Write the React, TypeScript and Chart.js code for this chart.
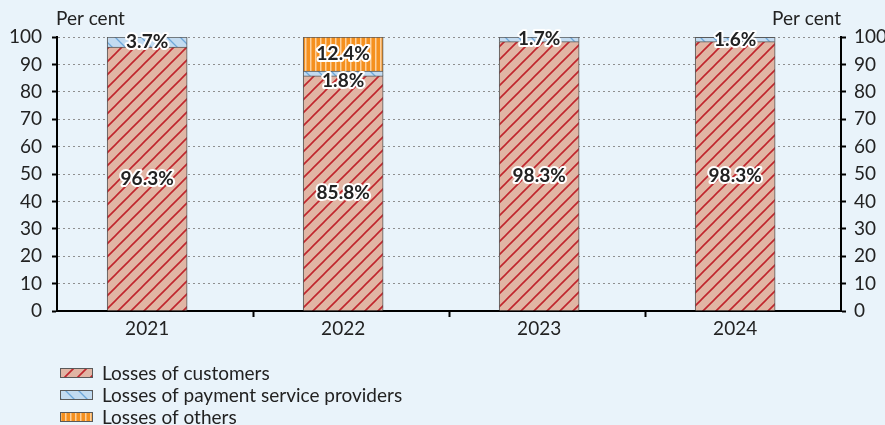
import React, { useEffect, useRef } from 'react';
import { Chart, registerables } from 'chart.js';

Chart.register(...registerables);

// ---- data ----
const YEARS = ['2021', '2022', '2023', '2024'];
const CUSTOMERS = [96.3, 85.8, 98.3, 98.3];
const PSP = [3.7, 1.8, 1.7, 1.6];
const OTHERS = [0, 12.4, 0, 0];
const SERIES_NAMES = [
  'Losses of customers',
  'Losses of payment service providers',
  'Losses of others',
];
const AXIS_TITLE = 'Per cent';
const Y_MIN = 0;
const Y_MAX = 100;
const Y_STEP = 10;

// ---- layout / style ----
const W = 885;
const H = 425;
const BG = '#e9f3fa';
const TEXT = '#222222';
const FONT = 'Lato';
const X_MIN = -0.46;
const X_MAX = 3.54;
const X_BOUNDARY = 0.54;

function makePattern(ctx: CanvasRenderingContext2D, kind: string): CanvasPattern | string {
  const c = document.createElement('canvas');
  const g = c.getContext('2d')!;
  if (kind === 'cust') {
    const s = 13;
    c.width = s; c.height = s;
    g.fillStyle = '#e1b5a4';
    g.fillRect(0, 0, s, s);
    g.strokeStyle = '#c0262d';
    g.lineWidth = 1.6;
    g.beginPath();
    for (const cc of [0, s, 2 * s]) {
      g.moveTo(cc - s - 1, s + 1);
      g.lineTo(cc + 1, -1);
    }
    g.stroke();
  } else if (kind === 'psp') {
    const s = 13;
    c.width = s; c.height = s;
    g.fillStyle = '#c3dbf0';
    g.fillRect(0, 0, s, s);
    g.strokeStyle = '#6ea7d9';
    g.lineWidth = 1.3;
    g.beginPath();
    for (const cc of [-s, 0, s]) {
      g.moveTo(cc - 1, -1);
      g.lineTo(cc + s + 1, s + 1);
    }
    g.stroke();
  } else {
    const s = 5;
    c.width = s; c.height = s;
    g.fillStyle = '#f5901e';
    g.fillRect(0, 0, s, s);
    g.fillStyle = '#fccf9c';
    g.fillRect(0, 0, 1.5, s);
  }
  return ctx.createPattern(c, 'repeat') || '#ccc';
}

const bgPlugin = {
  id: 'bgFill',
  beforeDraw(chart: any) {
    const { ctx, width, height } = chart;
    ctx.save();
    ctx.fillStyle = BG;
    ctx.fillRect(0, 0, width, height);
    ctx.restore();
  },
};

const titlesPlugin = {
  id: 'axisTitles',
  afterDraw(chart: any) {
    const { ctx, chartArea } = chart;
    ctx.save();
    ctx.font = `19px ${FONT}`;
    ctx.fillStyle = TEXT;
    ctx.textBaseline = 'alphabetic';
    ctx.textAlign = 'left';
    ctx.fillText(AXIS_TITLE, chartArea.left - 1, 25);
    ctx.textAlign = 'right';
    ctx.fillText(AXIS_TITLE, chartArea.right, 25);
    ctx.restore();
  },
};

const MIN_GAP = 27;
const segLabelPlugin = {
  id: 'segLabels',
  afterDatasetsDraw(chart: any) {
    const ctx = chart.ctx;
    ctx.save();
    ctx.font = `bold 19px ${FONT}`;
    ctx.textAlign = 'center';
    ctx.textBaseline = 'middle';
    ctx.lineJoin = 'round';
    ctx.lineWidth = 4;
    ctx.strokeStyle = '#ffffff';
    ctx.fillStyle = TEXT;
    for (let i = 0; i < YEARS.length; i++) {
      const items: any[] = [];
      chart.data.datasets.forEach((ds: any, di: number) => {
        const pt = ds.data[i];
        if (!pt || !pt.y) return;
        const el = chart.getDatasetMeta(di).data[i];
        items.push({ x: el.x, y: (el.y + el.base) / 2, text: pt.y.toFixed(1) + '%' });
      });
      for (let k = items.length - 2; k >= 0; k--) {
        if (items[k].y - items[k + 1].y < MIN_GAP) items[k].y = items[k + 1].y + MIN_GAP;
      }
      items.forEach((it) => {
        ctx.strokeText(it.text, it.x, it.y);
        ctx.fillText(it.text, it.x, it.y);
      });
    }
    ctx.restore();
  },
};

const legendPlugin = {
  id: 'vertLegend',
  afterDraw(chart: any) {
    const ctx = chart.ctx;
    ctx.save();
    ctx.font = `19px ${FONT}`;
    ctx.textBaseline = 'middle';
    ctx.textAlign = 'left';
    chart.data.datasets.forEach((ds: any, i: number) => {
      const cy = 373 + i * 22;
      ctx.fillStyle = ds.backgroundColor;
      ctx.fillRect(60, cy - 5, 33, 10);
      ctx.strokeStyle = '#595959';
      ctx.lineWidth = 1;
      ctx.strokeRect(60.5, cy - 4.5, 32, 9);
      ctx.fillStyle = TEXT;
      ctx.fillText(ds.label, 102, cy + 1);
    });
    ctx.restore();
  },
};

export default function App() {
  const ref = useRef<HTMLCanvasElement | null>(null);

  useEffect(() => {
    document.body.style.margin = '0';
    document.body.style.background = BG;
    const canvas = ref.current!;
    const ctx = canvas.getContext('2d')!;
    const toPts = (arr: number[]) => arr.map((v, i) => ({ x: i, y: v === 0 ? null : v }));
    const common = {
      borderColor: '#595959',
      borderWidth: 1,
      barThickness: 80,
    };
    const chart = new Chart(canvas, {
      type: 'bar',
      data: {
        datasets: [
          { label: SERIES_NAMES[0], data: toPts(CUSTOMERS), backgroundColor: makePattern(ctx, 'cust'), ...common },
          { label: SERIES_NAMES[1], data: toPts(PSP), backgroundColor: makePattern(ctx, 'psp'), ...common },
          { label: SERIES_NAMES[2], data: toPts(OTHERS), backgroundColor: makePattern(ctx, 'oth'), ...common },
        ] as any,
      },
      options: {
        animation: false,
        responsive: false,
        maintainAspectRatio: false,
        layout: { padding: { top: 37, left: 0, right: 0, bottom: 0 } },
        plugins: {
          legend: { display: false },
          tooltip: { enabled: false },
        },
        scales: {
          x: {
            type: 'linear',
            stacked: true,
            offset: false,
            min: X_MIN,
            max: X_MAX,
            afterBuildTicks: (scale: any) => {
              const t: any[] = [];
              YEARS.forEach((_, i) => t.push({ value: i }));
              for (let i = 0; i < YEARS.length - 1; i++) t.push({ value: i + X_BOUNDARY });
              t.sort((a, b) => a.value - b.value);
              scale.ticks = t;
            },
            afterFit: (scale: any) => {
              scale.height = H - 311;
            },
            ticks: {
              autoSkip: false,
              maxRotation: 0,
              padding: 0,
              color: TEXT,
              font: { family: FONT, size: 19 },
              callback: (v: any) => (Number.isInteger(v) ? YEARS[v] : ''),
            },
            grid: {
              offset: false,
              drawOnChartArea: false,
              tickLength: 6,
              tickWidth: 2,
              tickColor: (c: any) =>
                c.tick && Number.isInteger(c.tick.value) ? 'rgba(0,0,0,0)' : '#000',
            },
            border: { color: '#000', width: 2 },
          },
          y: {
            type: 'linear',
            position: 'left',
            stacked: true,
            min: Y_MIN,
            max: Y_MAX,
            afterFit: (scale: any) => {
              scale.width = 57;
            },
            ticks: {
              stepSize: Y_STEP,
              padding: 10,
              color: TEXT,
              font: { family: FONT, size: 19 },
            },
            grid: {
              color: '#8f8f8f',
              lineWidth: 1,
              tickLength: 5,
              tickWidth: 2,
              tickColor: '#000',
            },
            border: { color: '#000', width: 2, dash: [2, 3] },
          },
          y2: {
            type: 'linear',
            position: 'right',
            min: Y_MIN,
            max: Y_MAX,
            afterFit: (scale: any) => {
              scale.width = W - 841;
            },
            ticks: {
              stepSize: Y_STEP,
              padding: 8,
              color: TEXT,
              font: { family: FONT, size: 19 },
            },
            grid: {
              drawOnChartArea: false,
              tickLength: 5,
              tickWidth: 2,
              tickColor: '#000',
            },
            border: { color: '#000', width: 2 },
          },
        },
      } as any,
      plugins: [bgPlugin, titlesPlugin, segLabelPlugin, legendPlugin],
    });
    return () => chart.destroy();
  }, []);

  return (
    <div style={{ width: W, height: H, background: BG }}>
      <canvas ref={ref} width={W} height={H} style={{ display: 'block' }} />
    </div>
  );
}
